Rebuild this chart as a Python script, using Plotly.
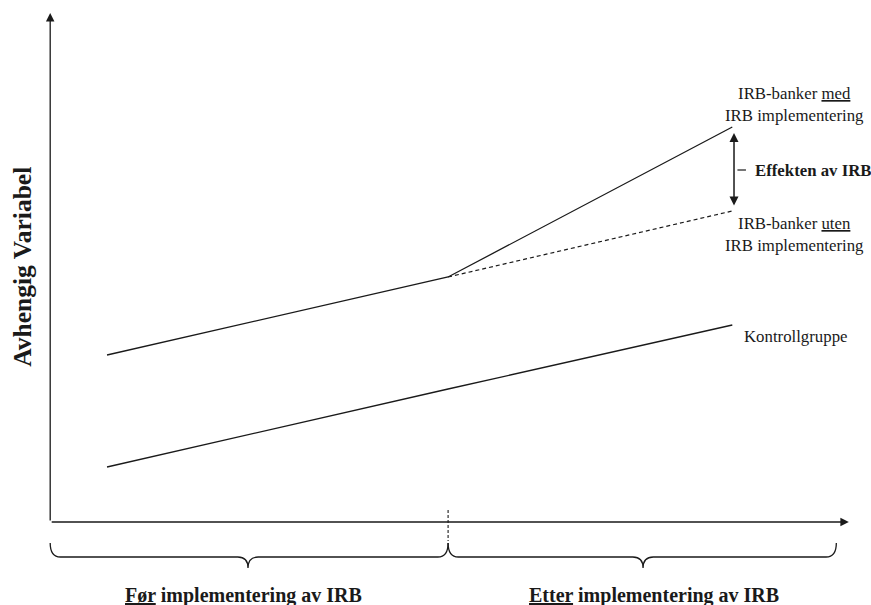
import plotly.graph_objects as go

# Conceptual DiD diagram values (abstract units)
periods = [0, 6, 11]              # start, implementation, end
treated = [16.7, 24.5, 39.5]      # IRB-banker med IRB implementering
counter_x = [6, 11]
counterfactual = [24.5, 31.1]     # IRB-banker uten IRB implementering
control = [5.5, 13.3, 19.7]       # Kontrollgruppe

axis_x0, axis_x1 = -1.0, 13.05
axis_y0, axis_y1 = 0.0, 50.9
impl = 6

FONT = "Liberation Serif, Times New Roman, serif"
INK = "#1a1a1a"

fig = go.Figure()
fig.add_trace(go.Scatter(x=periods, y=treated, mode="lines",
                         line=dict(color=INK, width=1.3), hoverinfo="skip"))
fig.add_trace(go.Scatter(x=counter_x, y=counterfactual, mode="lines",
                         line=dict(color=INK, width=1.2, dash="4px,3px"), hoverinfo="skip"))
fig.add_trace(go.Scatter(x=periods, y=control, mode="lines",
                         line=dict(color=INK, width=1.3), hoverinfo="skip"))

ann = []
# axes with arrows
ann.append(dict(x=axis_x1, y=axis_y0, ax=axis_x0, ay=axis_y0, xref="x", yref="y",
                axref="x", ayref="y", text="", showarrow=True, arrowhead=2,
                arrowsize=1.3, arrowwidth=1.3, arrowcolor=INK))
ann.append(dict(x=axis_x0, y=axis_y1, ax=axis_x0, ay=axis_y0, xref="x", yref="y",
                axref="x", ayref="y", text="", showarrow=True, arrowhead=2,
                arrowsize=1.3, arrowwidth=1.3, arrowcolor=INK))
# double arrow for effect
ann.append(dict(x=11.03, y=38.9, ax=11.03, ay=31.5, xref="x", yref="y",
                axref="x", ayref="y", text="", showarrow=True, arrowhead=2,
                startarrowhead=2, arrowside="end+start", arrowsize=1.2,
                startarrowsize=1.2, arrowwidth=1.5, arrowcolor=INK))

def label(x, y, text, size=16.8, bold=False, xanchor="center"):
    t = f"<b>{text}</b>" if bold else text
    ann.append(dict(x=x, y=y, xref="x", yref="y", text=t, showarrow=False,
                    xanchor=xanchor, yanchor="middle",
                    font=dict(family=FONT, size=size, color=INK)))

label(12.1, 41.8, "IRB-banker <u>med</u><br>IRB implementering")
label(12.1, 28.8, "IRB-banker <u>uten</u><br>IRB implementering")
label(11.17, 18.6, "Kontrollgruppe", xanchor="left")
label(11.37, 35.2, "Effekten av IRB", bold=True, xanchor="left")
label(2.4, -7.3, "<u>Før</u> implementering av IRB", size=20, bold=True)
label(9.62, -7.3, "<u>Etter</u> implementering av IRB", size=20, bold=True)

ann.append(dict(x=-1.5, y=25.5, xref="x", yref="y", text="<b>Avhengig Variabel</b>",
                showarrow=False, textangle=-90,
                font=dict(family=FONT, size=25.5, color=INK)))

fig.update_layout(annotations=ann)

shapes = []
# tick for effect label
shapes.append(dict(type="line", x0=11.09, x1=11.24, y0=35.2, y1=35.2,
                   xref="x", yref="y", line=dict(color=INK, width=1.2)))
# dashed vertical at implementation
shapes.append(dict(type="line", x0=impl, x1=impl, y0=1.2, y1=-1.9,
                   xref="x", yref="y", line=dict(color=INK, width=1.1, dash="3px,2px")))

def brace(x0, x1, xm, ytop=-2.1, yline=-3.5, ytip=-4.6, r=0.18):
    return (f"M {x0},{ytop} Q {x0},{yline} {x0+r},{yline} "
            f"L {xm-r},{yline} Q {xm},{yline} {xm},{ytip} "
            f"M {xm},{ytip} Q {xm},{yline} {xm+r},{yline} "
            f"L {x1-r},{yline} Q {x1},{yline} {x1},{ytop}")

shapes.append(dict(type="path", path=brace(axis_x0, impl, 2.48), xref="x", yref="y",
                   line=dict(color=INK, width=1.3)))
shapes.append(dict(type="path", path=brace(impl, 12.83, 9.43), xref="x", yref="y",
                   line=dict(color=INK, width=1.3)))
fig.update_layout(shapes=shapes)

fig.update_layout(
    width=871, height=605, margin=dict(l=0, r=0, t=0, b=0),
    paper_bgcolor="white", plot_bgcolor="white", showlegend=False,
    xaxis=dict(range=[-1.883, 13.44], visible=False, fixedrange=True),
    yaxis=dict(range=[-8.3, 52.2], visible=False, fixedrange=True),
)
fig.write_html("out.html", config={"displayModeBar": False},
               post_script="document.body.style.margin='0';"
                           "document.body.style.overflow='hidden';")
